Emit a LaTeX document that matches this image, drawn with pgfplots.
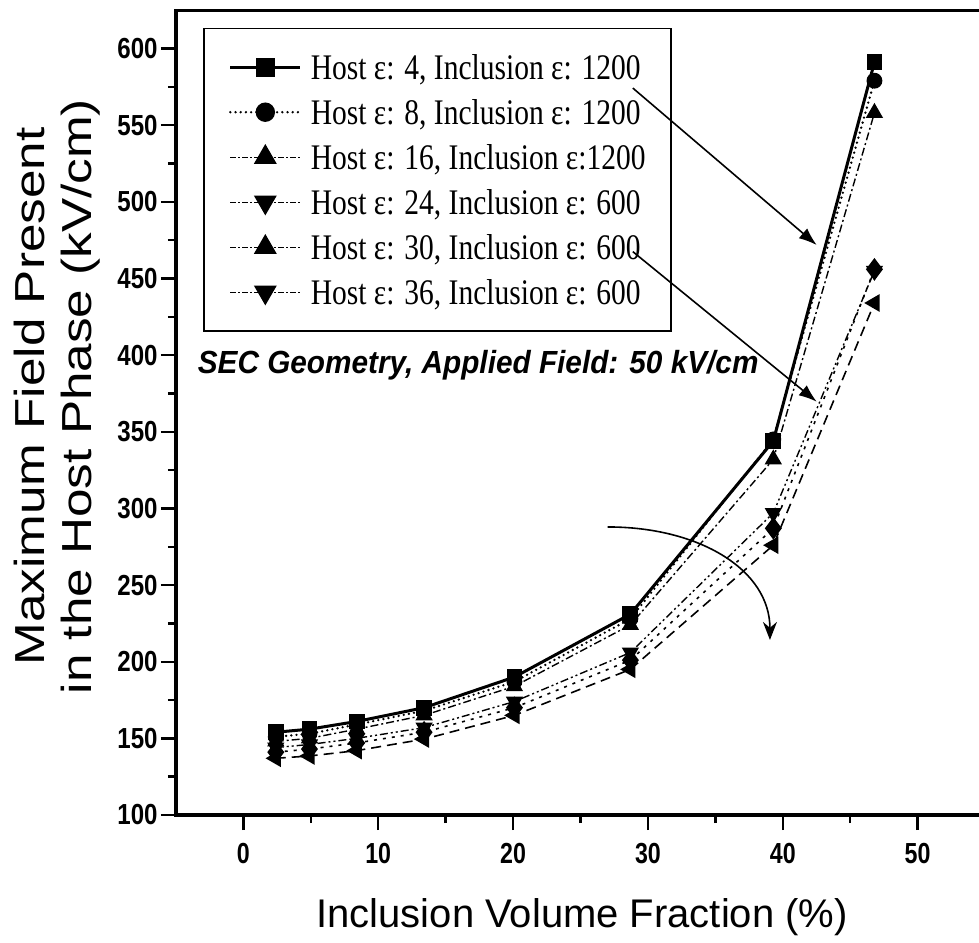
\documentclass[border=0pt]{standalone}
\usepackage{pgfplots}
\pgfplotsset{compat=1.18}
\usepackage{pgfplotstable}
\usepackage{fontspec}
\setmainfont{Liberation Serif}
\newfontfamily\arial{Liberation Sans}
\usetikzlibrary{arrows.meta}

\pgfplotstableread{
x    s1  s2  s3  s4  s5  s6
2.4  154 151 148 144 141 137
4.9  156 153 150 146 143 138.5
8.4  161 159 156 150 147 142
13.4 170 168 165 157 154 149.5
20.1 190 187 184 174 170 165
28.7 231 228 224 206 201 195
39.3 344 345 332 297 287 276
46.8 591 579 558 455 456 434
}\datatable

\newcommand\leg[1]{\makebox[167.5pt][l]{\scalebox{0.82}[1]{#1}}}

\begin{document}
\begin{tikzpicture}
\begin{axis}[
  scale only axis, width=404.5pt, height=402.4pt,
  xmin=-5, xmax=55, ymin=100, ymax=625,
  xtick={0,10,...,50}, ytick={100,150,...,600},
  minor x tick num=1, minor y tick num=1,
  tick align=outside, tick pos=left,
  major tick length=7.5pt, minor tick length=4pt,
  tick style={black, line width=1.2pt},
  axis line style={line width=1.6pt},
  tick label style={font=\arial\bfseries\fontsize{14.5}{16}\selectfont, inner sep=0pt},
  xticklabel={\scalebox{0.8}[1]{\pgfmathprintnumber[assume math mode=true]{\tick}}},
  yticklabel={\scalebox{0.83}[1]{\pgfmathprintnumber[assume math mode=true]{\tick}}},
  xticklabel shift=6.5pt, yticklabel shift=1.5pt,
  clip=false,
  xlabel={Inclusion Volume Fraction (\%)},
  xlabel style={at={(axis description cs:0.502,0)}, anchor=base, yshift=-56pt, inner sep=0pt, font=\arial\fontsize{20}{24}\selectfont},
  ylabel={\scalebox{1.22}[1]{Maximum Field Present}},
  ylabel style={at={(axis description cs:-0.162,0.52)}, rotate=0, anchor=base, inner sep=0pt, font=\arial\fontsize{21}{24}\selectfont},
  legend style={at={(0.0334,0.978)}, anchor=north west, draw=black, fill=none, line width=0.8pt,
    inner xsep=12.5pt, inner ysep=8pt, row sep=0pt, column sep=4.5pt,
    font=\fontsize{18}{20}\selectfont,
    nodes={inner sep=0pt, text height=17.5pt, text depth=5pt}},
  legend cell align=left,
  legend image code/.code={\draw[mark repeat=2,mark phase=2] plot coordinates {(0pt,0pt) (17.5pt,0pt) (35pt,0pt)};},
]
\addplot[forget plot, black, line width=1.5pt, mark=square*, mark size=3.2pt, mark options={solid}] table[x=x,y=s1]{\datatable};
\addplot[forget plot, black, line width=1.3pt, line cap=round, dash pattern=on 0pt off 2.6pt, mark=*, mark size=3.3pt, mark options={solid}] table[x=x,y=s2]{\datatable};
\addplot[forget plot, black, line width=0.7pt, dash pattern=on 4pt off 1.5pt on 1pt off 1.5pt, mark=triangle*, mark size=4.3pt, mark options={solid}] table[x=x,y=s3]{\datatable};
\addplot[forget plot, black, line width=0.7pt, dash pattern=on 4pt off 1.5pt on 1pt off 1.5pt on 1pt off 1.5pt, mark=triangle*, mark size=4.3pt, mark options={solid, rotate=180}] table[x=x,y=s4]{\datatable};
\addplot[forget plot, black, line width=0.8pt, dash pattern=on 1.5pt off 3pt, mark=diamond*, mark size=5pt, mark options={solid}] table[x=x,y=s5]{\datatable};
\addplot[forget plot, black, line width=0.8pt, dash pattern=on 5pt off 3pt, mark=triangle*, mark size=4.3pt, mark options={solid, rotate=90}] table[x=x,y=s6]{\datatable};

\addlegendimage{black, line width=1.5pt, mark=square*, mark size=4pt, mark options={solid}}
\addlegendentry{\leg{Host ε: 4, Inclusion ε: 1200}}
\addlegendimage{black, line width=1.3pt, line cap=round, dash pattern=on 0pt off 2.6pt, mark=*, mark size=4.2pt, mark options={solid}}
\addlegendentry{\leg{Host ε: 8, Inclusion ε: 1200}}
\addlegendimage{black, line width=0.6pt, dash pattern=on 3pt off 1pt on 1pt off 1pt, mark=triangle*, mark size=6pt, mark options={solid}}
\addlegendentry{\leg{Host ε: 16, Inclusion ε:1200}}
\addlegendimage{black, line width=0.6pt, dash pattern=on 3pt off 1pt on 1pt off 1pt, mark=triangle*, mark size=6pt, mark options={solid, rotate=180}}
\addlegendentry{\leg{Host ε: 24, Inclusion ε: 600}}
\addlegendimage{black, line width=0.6pt, dash pattern=on 3pt off 1pt on 1pt off 1pt, mark=triangle*, mark size=6pt, mark options={solid}}
\addlegendentry{\leg{Host ε: 30, Inclusion ε: 600}}
\addlegendimage{black, line width=0.6pt, dash pattern=on 3pt off 1pt on 1pt off 1pt, mark=triangle*, mark size=6pt, mark options={solid, rotate=180}}
\addlegendentry{\leg{Host ε: 36, Inclusion ε: 600}}

\node[rotate=90, anchor=base, inner sep=0pt, font=\arial\fontsize{21}{24}\selectfont] at (axis description cs:-0.104,0.52) {\scalebox{1.22}[1]{in the Host Phase (kV/cm)}};

\node[anchor=base west, inner sep=0pt, font=\arial\bfseries\itshape\fontsize{16}{18}\selectfont] at (axis cs:-3.41,387.7) {\scalebox{0.93}[1]{SEC Geometry, Applied Field: 50 kV/cm}};

\draw[line width=0.8pt, -{Latex[length=9pt,width=6.5pt]}] (axis cs:28.88,574.2) -- (axis cs:42.52,471.8);
\draw[line width=0.8pt, -{Latex[length=9pt,width=6.5pt]}] (axis cs:28.88,467.5) -- (axis cs:42.52,369.6);
\draw[line width=0.8pt, -{Stealth[length=9pt,width=7pt]}] (axis cs:27.02,287.9) .. controls (axis cs:33.85,287.9) and (axis cs:39.05,259.8) .. (axis cs:39.05,214.2);
\end{axis}
\pgfresetboundingbox
\path[use as bounding box] (current axis.south west) ++(-88pt,-63.5pt) rectangle ++(489.5pt,471pt);
\end{tikzpicture}
\end{document}
